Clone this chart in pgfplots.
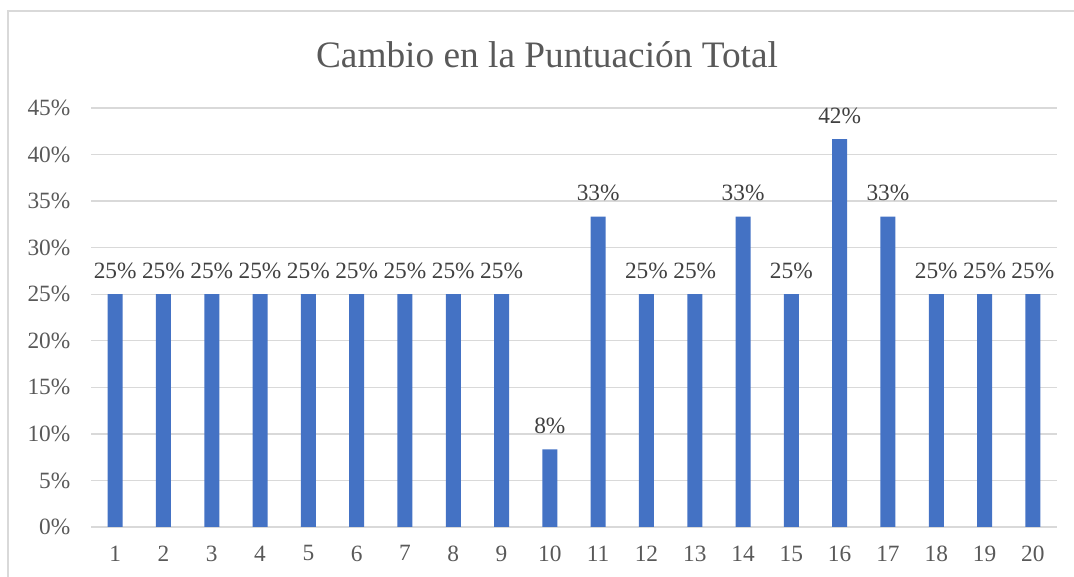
\documentclass[border=0pt]{standalone}
\usepackage{fontspec}
\setmainfont{Liberation Serif}
\usepackage{pgfplots}
\pgfplotsset{compat=1.18}
\definecolor{barblue}{HTML}{4472C4}
\definecolor{gridgray}{HTML}{D9D9D9}
\definecolor{txtgray}{HTML}{595959}
\definecolor{lblgray}{HTML}{404040}
\begin{document}
\begin{tikzpicture}[x=0.75pt,y=0.75pt]
\useasboundingbox (0,0) rectangle (1074,577);
\draw[gridgray,line width=1.2pt] (8,-10) -- (8,566) -- (1090,566);
\node[txtgray,font=\fontsize{28}{33}\selectfont] at (547,522) {Cambio en la Puntuación Total};
\begin{axis}[
  at={(68.25pt,37.5pt)}, anchor=south west,
  scale only axis, width=724.5pt, height=314.25pt,
  ybar, bar width=11.25pt,
  xmin=0.5, xmax=20.5, ymin=0, ymax=45,
  xtick={1,...,20}, ytick={0,5,...,45},
  yticklabel={\pgfmathprintnumber{\tick}\%},
  /pgf/number format/assume math mode=true,
  tick label style={txtgray,font=\fontsize{17.5}{21}\selectfont},
  major tick length=0pt,
  yticklabel style={xshift=-12pt},
  xticklabel style={yshift=-10.5pt},
  axis line style={draw=none},
  ymajorgrids, grid style={gridgray,line width=1pt},
  nodes near coords={\pgfmathprintnumber[fixed,precision=0]{\pgfplotspointmeta}\%},
  nodes near coords style={lblgray,font=\fontsize{17.5}{21}\selectfont,anchor=south,yshift=8pt},
  point meta=y,
  clip=false,
]
\addplot[fill=barblue,draw=none] coordinates {
(1,25) (2,25) (3,25) (4,25) (5,25) (6,25) (7,25) (8,25) (9,25) (10,8.33)
(11,33.33) (12,25) (13,25) (14,33.33) (15,25) (16,41.67) (17,33.33) (18,25) (19,25) (20,25)
};
\end{axis}
\end{tikzpicture}
\end{document}
